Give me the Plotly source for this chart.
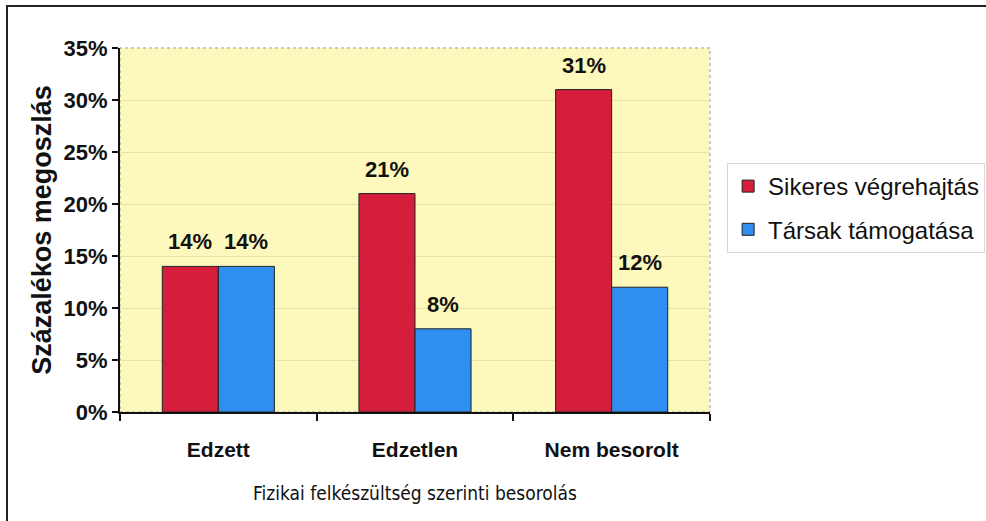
import plotly.graph_objects as go

categories = ["Edzett", "Edzetlen", "Nem besorolt"]
sikeres = [0.14, 0.21, 0.31]
tarsak = [0.14, 0.08, 0.12]
series_names = ["Sikeres végrehajtás", "Társak támogatása"]
y_ticks = [0, 0.05, 0.10, 0.15, 0.20, 0.25, 0.30, 0.35]

RED = "#D41E3C"
BLUE = "#2E8FF0"
FONT = "Arial, Liberation Sans, sans-serif"
BARGAP = 0.43

fig = go.Figure()
for vals, name, color, grp in [(sikeres, series_names[0], RED, "a"),
                               (tarsak, series_names[1], BLUE, "b")]:
    fig.add_trace(go.Bar(
        x=categories, y=vals, name=name,
        marker=dict(color=color, line=dict(color="#222222", width=1)),
        legendgroup=grp, hoverinfo="skip",
    ))

# value labels above bars (positioned from data through axis scales)
plot_w = 986 - 120 - 276
bar_px = plot_w / len(categories) * (1 - BARGAP) / 2
for vals, sign in [(sikeres, -1), (tarsak, 1)]:
    for c, v in zip(categories, vals):
        fig.add_annotation(
            x=c, y=v, text="<b>%d%%</b>" % round(v * 100), showarrow=False,
            xshift=sign * bar_px / 2, yshift=10, yanchor="bottom",
            font=dict(family=FONT, size=22, color="#111111"),
        )

fig.update_layout(
    width=986, height=521,
    margin=dict(l=120, r=276, t=48, b=109, autoexpand=False),
    paper_bgcolor="white",
    plot_bgcolor="#FDF9BC",
    barmode="group",
    bargap=BARGAP,
    bargroupgap=0,
    font=dict(family=FONT, color="#111111"),
    showlegend=True,
    legend=dict(
        x=1.029, y=0.684, xanchor="left", yanchor="top",
        font=dict(size=24, color="#111111"),
        bordercolor="#D8D8D8", borderwidth=1, bgcolor="white",
        traceorder="grouped", tracegroupgap=9,
    ),
)

fig.update_yaxes(
    range=[0, 0.35], tickvals=y_ticks, tickformat=".0%",
    tickfont=dict(size=22, weight="bold"),
    showline=True, linecolor="#111111", linewidth=2,
    ticks="outside", ticklen=6, tickcolor="#111111", tickwidth=2,
    showgrid=True, gridcolor="#E8E2A8", gridwidth=1,
    zeroline=False,
    title=dict(text="<b>Százalékos megoszlás</b>", font=dict(size=27), standoff=4),
)
fig.update_xaxes(
    showline=True, linecolor="#111111", linewidth=2,
    ticks="outside", ticklen=7, tickcolor="#111111", tickwidth=2,
    tickson="boundaries",
    tickfont=dict(size=21, weight="bold"),
    ticklabelstandoff=18,
    title=dict(text="Fizikai felkészültség szerinti besorolás",
               font=dict(size=19, family="Liberation Sans Narrow, Arial Narrow, DejaVu Sans Condensed, Arial"),
               standoff=26),
)

# plot area dotted border
fig.add_shape(type="rect", xref="paper", yref="paper", x0=0, y0=0, x1=1, y1=1,
              line=dict(color="#999999", width=1, dash="dot"), layer="below")
# outer chart border
fig.add_shape(type="rect", xref="paper", yref="paper",
              x0=-0.1915, y0=-0.5, x1=3, y1=1.1154,
              line=dict(color="#222222", width=2), fillcolor="rgba(0,0,0,0)")

fig.write_html(
    "out.html", config={"displayModeBar": False},
    post_script="document.body.style.margin='0';"
                "document.body.style.overflow='hidden';"
                "document.documentElement.style.overflow='hidden';",
)
